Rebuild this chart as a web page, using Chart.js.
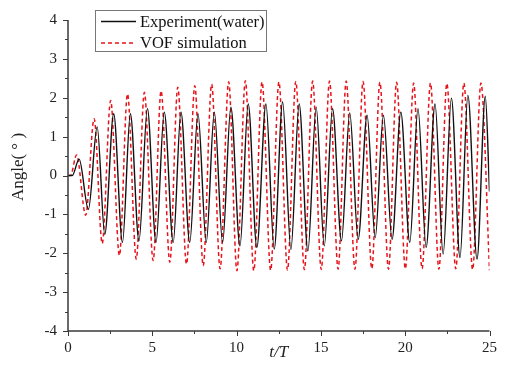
<!DOCTYPE html>
<html lang="en">
<head>
<meta charset="UTF-8" />
<title>Angle vs t/T</title>
<script src="https://cdn.jsdelivr.net/npm/chart.js"></script>
<style>
  html, body { margin: 0; padding: 0; background: #fff; }
  #wrap { width: 505px; height: 367px; }
</style>
</head>
<body>
<div id="wrap"><canvas id="chart" width="505" height="367"></canvas></div>
<script>
// experiment (water): extremes
const expT = [0, 0.25, 0.66, 1.21, 1.73, 2.18, 2.71, 3.23, 3.70, 4.21, 4.71, 5.22, 5.71, 6.24, 6.70, 7.22, 7.71, 8.20,
  8.68, 9.17, 9.66, 10.20, 10.69, 11.20, 11.74, 12.23, 12.73, 13.22, 13.71, 14.23, 14.72, 15.20, 15.69, 16.22, 16.71,
  17.21, 17.74, 18.22, 18.71, 19.22, 19.74, 20.27, 20.76, 21.24, 21.77, 22.25, 22.74, 23.25, 23.72, 24.26, 24.75, 25.0];
const expA = [0, 0, 0.42, -0.87, 1.25, -1.51, 1.59, -1.72, 1.59, -1.68, 1.72, -1.72, 1.63, -1.72, 1.63, -1.72, 1.59, -1.72,
  1.63, -1.72, 1.76, -1.81, 1.84, -1.85, 1.84, -1.89, 1.89, -1.90, 1.84, -1.94, 1.76, -1.81, 1.72, -1.68, 1.61,
  -1.64, 1.55, -1.60, 1.55, -1.64, 1.63, -1.72, 1.72, -1.85, 1.84, -2.02, 1.99, -2.11, 2.06, -2.15, 2.04, -0.41];

// VOF simulation
const vofT = [0, 0.15, 0.51, 1.05, 1.55, 2.03, 2.53, 3.05, 3.53, 4.05, 4.53, 5.05, 5.52, 6.04, 6.51, 7.03, 7.52, 8.02,
  8.52, 9.02, 9.53, 10.02, 10.52, 11.02, 11.51, 12.02, 12.51, 13.02, 13.51, 14.02, 14.51, 15.02, 15.51, 16.02, 16.5,
  17.02, 17.5, 18.02, 18.5, 19.01, 19.49, 20.01, 20.5, 21.0, 21.5, 22.0, 22.47, 23.0, 23.48, 24.0, 24.49, 25.0];
const vofA = [0, 0, 0.53, -1.02, 1.46, -1.75, 1.93, -2.06, 2.10, -2.15, 2.14, -2.19, 2.18, -2.23, 2.27, -2.28, 2.31, -2.32,
  2.35, -2.40, 2.41, -2.45, 2.44, -2.45, 2.41, -2.44, 2.41, -2.43, 2.42, -2.42, 2.43, -2.42, 2.43, -2.41, 2.43,
  -2.41, 2.42, -2.40, 2.40, -2.41, 2.40, -2.40, 2.38, -2.40, 2.38, -2.41, 2.37, -2.40, 2.38, -2.42, 2.38, -2.44];

const seriesNames = ['Experiment(water)', 'VOF simulation'];
const xTicks = [0, 5, 10, 15, 20, 25];
const yTicks = [-4, -3, -2, -1, 0, 1, 2, 3, 4];

const SERIF = "'Liberation Serif', 'Times New Roman', serif";
const AXIS = '#3a3a3a';

function pts(t, a) { return t.map((v, i) => ({ x: v, y: a[i] })); }

// axis lines with major/minor tick marks (outside)
const axisTicks = {
  id: 'axisTicks',
  afterDraw(chart) {
    const { ctx, chartArea: ca, scales: { x, y } } = chart;
    ctx.save();
    ctx.strokeStyle = AXIS;
    ctx.lineWidth = 1.5;
    ctx.beginPath();
    ctx.moveTo(ca.left, ca.top);
    ctx.lineTo(ca.left, ca.bottom);
    ctx.lineTo(ca.right, ca.bottom);
    ctx.stroke();
    ctx.lineWidth = 1;
    ctx.beginPath();
    for (let v = -4; v <= 4.001; v += 0.5) {
      const py = Math.round(y.getPixelForValue(v)) + 0.5;
      const len = Number.isInteger(v) ? 5 : 3;
      ctx.moveTo(ca.left, py);
      ctx.lineTo(ca.left - len, py);
    }
    for (let v = 0; v <= 25.001; v += 2.5) {
      const px = Math.round(x.getPixelForValue(v)) + 0.5;
      const len = Number.isInteger(v / 5) ? 5 : 3;
      ctx.moveTo(px, ca.bottom);
      ctx.lineTo(px, ca.bottom + len);
    }
    ctx.stroke();
    ctx.restore();
  }
};

// legend box in the upper area of the plot
const boxLegend = {
  id: 'boxLegend',
  afterDraw(chart) {
    const ctx = chart.ctx;
    ctx.save();
    ctx.fillStyle = '#fff';
    ctx.fillRect(95, 10, 172, 42);
    ctx.strokeStyle = '#777';
    ctx.lineWidth = 1;
    ctx.strokeRect(95.5, 10.5, 171, 41);
    ctx.font = '16.5px ' + SERIF;
    ctx.textBaseline = 'middle';
    chart.data.datasets.forEach((ds, i) => {
      const yy = 21.5 + i * 21.5;
      ctx.strokeStyle = ds.borderColor;
      ctx.lineWidth = ds.borderWidth;
      ctx.setLineDash(ds.borderDash || []);
      ctx.beginPath();
      ctx.moveTo(101, yy);
      ctx.lineTo(136, yy);
      ctx.stroke();
      ctx.setLineDash([]);
      ctx.fillStyle = '#111';
      ctx.fillText(seriesNames[i], 140, yy + 1);
    });
    ctx.restore();
  }
};

new Chart(document.getElementById('chart'), {
  type: 'line',
  data: {
    datasets: [
      {
        label: seriesNames[0],
        data: pts(expT, expA),
        borderColor: '#111',
        borderWidth: 1.4,
        pointRadius: 0,
        cubicInterpolationMode: 'monotone',
        fill: false
      },
      {
        label: seriesNames[1],
        data: pts(vofT, vofA),
        borderColor: '#e8141b',
        borderWidth: 1.5,
        borderDash: [4, 3],
        pointRadius: 0,
        cubicInterpolationMode: 'monotone',
        fill: false
      }
    ]
  },
  options: {
    responsive: false,
    animation: false,
    layout: { padding: { left: 0, top: 17, right: 9, bottom: 0 } },
    plugins: { legend: { display: false }, tooltip: { enabled: false } },
    scales: {
      x: {
        type: 'linear',
        min: 0,
        max: 25,
        afterBuildTicks: s => { s.ticks = xTicks.map(v => ({ value: v })); },
        afterFit: s => { s.height = 36; },
        grid: { display: false, drawTicks: false, tickLength: 0 },
        border: { display: false },
        ticks: { color: '#222', padding: 8, maxRotation: 0, font: { family: SERIF, size: 15 } },
        title: {
          display: true,
          text: 't/T',
          color: '#222',
          padding: { top: 0, bottom: 4 },
          font: { family: SERIF, size: 17, style: 'italic' }
        }
      },
      y: {
        type: 'linear',
        min: -4,
        max: 4,
        afterBuildTicks: s => { s.ticks = yTicks.map(v => ({ value: v })); },
        afterFit: s => { s.width = 68; },
        grid: { display: false, drawTicks: false, tickLength: 0 },
        border: { display: false },
        ticks: { color: '#222', padding: 11, font: { family: SERIF, size: 15 } },
        title: {
          display: true,
          text: '\u2002\u2002Angle( \u00B0 )',
          color: '#222',
          padding: { top: 8, bottom: 0 },
          font: { family: SERIF, size: 17 }
        }
      }
    }
  },
  plugins: [axisTicks, boxLegend]
});
</script>
</body>
</html>
